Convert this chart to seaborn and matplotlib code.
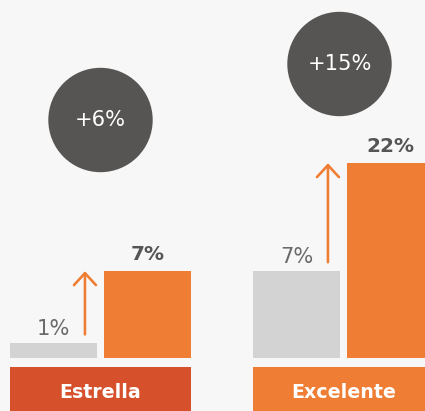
import numpy as np
import pandas as pd
import matplotlib
matplotlib.use("Agg")
import matplotlib.pyplot as plt
from matplotlib.patches import Circle
import seaborn as sns

# ---- data ----
groups = ["Estrella", "Excelente"]
before = [1, 7]
after = [7, 22]
change_labels = ["+6%", "+15%"]
periods = ["antes", "después"]

# ---- style ----
BG = "#f7f7f7"
GRAY = "#d3d3d3"
ORANGE = "#ef7d33"
RED = "#d5502b"
DARK = "#575553"
W, H, DPI = 425, 411, 72

sns.set_theme(style="white")
plt.rcParams["font.family"] = ["DejaVu Sans"]

df = pd.DataFrame({
    "group": groups * 2,
    "period": [periods[0]] * len(groups) + [periods[1]] * len(groups),
    "value": before + after,
})

fig = plt.figure(figsize=(W / DPI, H / DPI), dpi=DPI, facecolor=BG)

# main bar axes (baseline at y=358 px)
ax = fig.add_axes([0, 53 / H, 1, 358 / H])
ax.set_facecolor("none")

# non-linear (infographic) value scale: piecewise linear
kv = np.array([-10, 0, 1, 7, 22, 100])
kp = np.array([-150, 0, 14.6, 86.8, 194.8, 194.8 + 78 * 7.2])
fwd = lambda v: np.interp(v, kv, kp)
inv = lambda p: np.interp(p, kp, kv)

sns.barplot(data=df, x="group", y="value", hue="period", hue_order=periods,
            order=groups, palette=[GRAY, ORANGE], width=0.774, gap=0.074,
            saturation=1, legend=False, linewidth=0, ax=ax)
ax.set_yscale("function", functions=(fwd, inv))
ax.set_ylim(0, inv(358))
x0 = -100.5 / 243
ax.set_xlim(x0, x0 + W / 243)
ax.set_axis_off()

off = 0.774 / 4
for i, g in enumerate(groups):
    ax.annotate(f"{before[i]}%", (i - off, before[i]), xytext=(0, 8),
                textcoords="offset points", ha="center", va="baseline",
                fontsize=21, color="#6a6a6a")
    ax.annotate(f"{after[i]}%", (i + off, after[i]), xytext=(0, 11),
                textcoords="offset points", ha="center", va="baseline",
                fontsize=20, fontweight="bold", color="#555555")
    ax.annotate("", xy=(i - 0.064, after[i]), xytext=(i - 0.064, before[i]),
                arrowprops=dict(arrowstyle="->,head_length=0.6,head_width=0.55",
                                color=ORANGE, lw=2.6, mutation_scale=20,
                                shrinkA=9, shrinkB=0))

# category boxes
axb = fig.add_axes([0, 0, 1, 44 / H])
axb.set_facecolor("none")
sns.barplot(x=groups, y=[1] * len(groups), hue=groups, palette=[RED, ORANGE],
            width=0.741, saturation=1, legend=False, linewidth=0, ax=axb)
axb.set_ylim(0, 1)
axb.set_xlim(x0, x0 + W / 243)
axb.set_axis_off()
for i, g in enumerate(groups):
    axb.text(i, 0.43, g, ha="center", va="center", fontsize=19,
             fontweight="bold", color="white")

# change circles
axo = fig.add_axes([0, 0, 1, 1])
axo.set_xlim(0, W)
axo.set_ylim(H, 0)
axo.set_axis_off()
axo.set_facecolor("none")
centers = [(100.5, 120), (339.5, 64)]
for (cx, cy), lab in zip(centers, change_labels):
    axo.add_patch(Circle((cx, cy), 52.2, color=DARK, lw=0))
    axo.text(cx, cy, lab, ha="center", va="center", fontsize=21,
             color="white")

fig.savefig("out.png", dpi=DPI, facecolor=BG)
